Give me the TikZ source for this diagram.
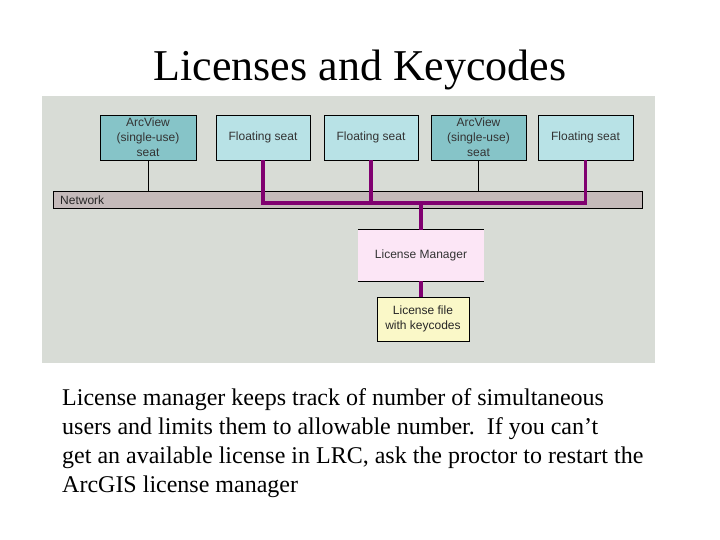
\documentclass[tikz,border=0pt]{standalone}
\usepackage{fontspec}
\setmainfont{Liberation Serif}
\newfontfamily\diagfont{Liberation Sans}
\begin{document}
\begin{tikzpicture}[x=1pt,y=-1pt,
  seatbox/.style={draw=black,line width=0.8pt,inner sep=0pt,minimum height=45pt,
    font=\diagfont\fontsize{12}{15}\selectfont,text=black!80,align=center},
  arcbox/.style={seatbox,fill=arcteal,minimum width=96pt},
  floatbox/.style={seatbox,fill=floatblue,minimum width=94pt},
  lic/.style={line width=3.6pt,draw=licpurple},
  thin/.style={line width=0.8pt,draw=black}]
\definecolor{panelbg}{RGB}{216,220,214}
\definecolor{arcteal}{RGB}{134,196,200}
\definecolor{floatblue}{RGB}{184,226,230}
\definecolor{netgray}{RGB}{196,186,186}
\definecolor{licpurple}{RGB}{128,0,112}
\definecolor{lmpink}{RGB}{252,230,246}
\definecolor{lfyellow}{RGB}{250,248,200}
\useasboundingbox (0,0) rectangle (720,540);
\fill[white] (0,0) rectangle (720,540);
% title
\node[anchor=base,font=\fontsize{44}{52}\selectfont,inner sep=0pt] (title) at (360,81) {Licenses and Keycodes};
% panel
\fill[panelbg] (42,96) rectangle (655,363);
% seats
\node[arcbox] (arc1) at (148,137.5) {ArcView\\(single-use)\\seat};
\node[floatbox] (float1) at (263,137.5) {Floating seat};
\node[floatbox] (float2) at (371,137.5) {Floating seat};
\node[arcbox,minimum width=95pt] (arc2) at (478.5,137.5) {ArcView\\(single-use)\\seat};
\node[floatbox,minimum width=95pt] (float3) at (585.5,137.5) {Floating seat};
% network
\node[draw=black,line width=0.8pt,fill=netgray,minimum width=589pt,minimum height=17pt,inner sep=0pt] (net) at (347.5,199.5) {};
\node[anchor=west,font=\diagfont\fontsize{12}{14}\selectfont,text=black!85,inner sep=0pt] (netlabel) at (60,200) {Network};
% license manager & file
\node[fill=lmpink,minimum width=126pt,minimum height=51pt,inner sep=0pt,
  font=\diagfont\fontsize{12}{15}\selectfont,text=black!80] (lm) at (421,255.5) {License Manager};
\draw[thin] (lm.north west) -- (lm.north east) (lm.south west) -- (lm.south east);
\node[draw=black,line width=0.8pt,fill=lfyellow,minimum width=92pt,minimum height=44pt,inner sep=0pt,
  align=center,font=\diagfont\fontsize{12}{15}\selectfont,text=black!85] (lf) at (423,319) {License file\\with keycodes};
% connectors
\coordinate (j) at (421,203);
\draw[thin] (arc1.south) -- (arc1.south |- net.north);
\draw[thin] (arc2.south) -- (arc2.south |- net.north);
\draw[lic,line join=miter] (float1.south) -- (float1.south |- j) -- (float3.south |- j) -- (float3.south);
\draw[lic] (float2.south) -- (float2.south |- j);
\draw[lic] (j) -- (lm.north);
\draw[lic] (lm.south) -- (lm.south |- lf.north);
% body text
\node[anchor=base west,inner sep=0pt,align=left,font=\fontsize{24}{29}\selectfont] (body) at (62,492)
  {License manager keeps track of number of simultaneous\\
   users and limits them to allowable number.\ \ If you can’t\\
   get an available license in LRC, ask the proctor to restart the\\
   ArcGIS license manager};
\end{tikzpicture}
\end{document}
